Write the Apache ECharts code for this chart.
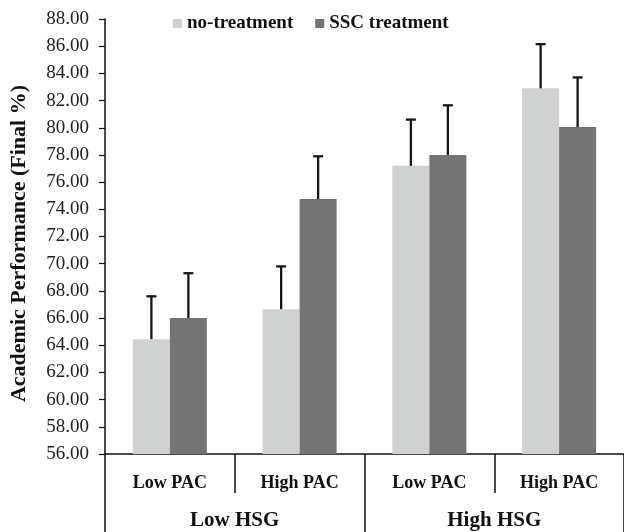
<!DOCTYPE html>
<html><head><meta charset="utf-8">
<script src="https://cdn.jsdelivr.net/npm/echarts@6/dist/echarts.min.js"></script>
<style>html,body{margin:0;padding:0;background:#fff}#c{width:624px;height:532px}</style>
</head><body><div id="c"></div>
<script>
var categories = ['Low PAC', 'High PAC', 'Low PAC', 'High PAC'];
var groups = ['Low HSG', 'High HSG'];
var seriesNames = ['no-treatment', 'SSC treatment'];
var noTreatment = [64.45, 66.65, 77.2, 82.9];
var noTreatmentErr = [67.6, 69.8, 80.6, 86.15];
var sscTreatment = [66.0, 74.75, 78.0, 80.05];
var sscTreatmentErr = [69.3, 77.9, 81.65, 83.7];
var yMin = 56, yMax = 88, yStep = 2;

var FONT = '"Liberation Serif", "Times New Roman", serif';
var GAP = 0.43;
function errSeries(vals, tops, side) {
  return {
    type: 'custom', xAxisIndex: 0, yAxisIndex: 0, z: 5, silent: true,
    data: vals.map(function (v, i) { return [i, v, tops[i]]; }),
    renderItem: function (params, api) {
      var band = api.size([1, 0])[0];
      var bw = band * (1 - GAP) / 2;
      var base = api.coord([api.value(0), api.value(1)]);
      var top = api.coord([api.value(0), api.value(2)]);
      var x = base[0] + side * bw / 2;
      var style = { stroke: '#161616', lineWidth: 2.3 };
      return { type: 'group', children: [
        { type: 'line', shape: { x1: x, y1: base[1], x2: x, y2: top[1] }, style: style },
        { type: 'line', shape: { x1: x - 5, y1: top[1], x2: x + 5, y2: top[1] }, style: style }
      ]};
    }
  };
}
var chart = echarts.init(document.getElementById('c'));
chart.setOption({
  animation: false,
  textStyle: { fontFamily: FONT },
  legend: {
    top: 9, left: 168, itemWidth: 9, itemHeight: 9, itemGap: 22, icon: 'rect',
    data: seriesNames,
    textStyle: { fontFamily: FONT, fontWeight: 'bold', fontSize: 19, color: '#111' }
  },
  grid: { left: 104, top: 19, width: 524, bottom: 78, containLabel: false },
  xAxis: [
    { type: 'category', data: categories, position: 'bottom',
      axisLine: { lineStyle: { color: '#111', width: 1.5 } },
      axisTick: { show: true, interval: 0, length: 39, alignWithLabel: false, lineStyle: { color: '#111', width: 1.5 } },
      axisLabel: { interval: 0, margin: 20, fontFamily: FONT, fontWeight: 'bold', fontSize: 18, color: '#111' } },
    { type: 'category', data: groups, position: 'bottom', gridIndex: 0,
      axisLine: { show: false },
      axisTick: { show: true, interval: 0, length: 78, alignWithLabel: false, lineStyle: { color: '#111', width: 1.5 } },
      axisLabel: { interval: 0, margin: 56, fontFamily: FONT, fontWeight: 'bold', fontSize: 21, color: '#111' } }
  ],
  yAxis: {
    type: 'value', min: yMin, max: yMax, interval: yStep,
    name: 'Academic Performance (Final %)', nameLocation: 'middle', nameGap: 75, nameRotate: 90,
    nameTextStyle: { fontFamily: FONT, fontWeight: 'bold', fontSize: 22, color: '#111', padding: [0, 14, 0, 0] },
    axisLine: { show: true, lineStyle: { color: '#111', width: 1.5 } },
    axisTick: { show: true, length: 6, lineStyle: { color: '#111', width: 1.2 } },
    splitLine: { show: false },
    axisLabel: { fontFamily: FONT, fontSize: 19, color: '#222', margin: 16,
      formatter: function (v) { return v.toFixed(2); } }
  },
  series: [
    { name: seriesNames[0], type: 'bar', data: noTreatment, barGap: '0%', barCategoryGap: '43%',
      itemStyle: { color: '#d0d2d1' } },
    { name: seriesNames[1], type: 'bar', data: sscTreatment, barGap: '0%', barCategoryGap: '43%',
      itemStyle: { color: '#747474' } },
    errSeries(noTreatment, noTreatmentErr, -1),
    errSeries(sscTreatment, sscTreatmentErr, 1)
  ]
});
</script></body></html>
